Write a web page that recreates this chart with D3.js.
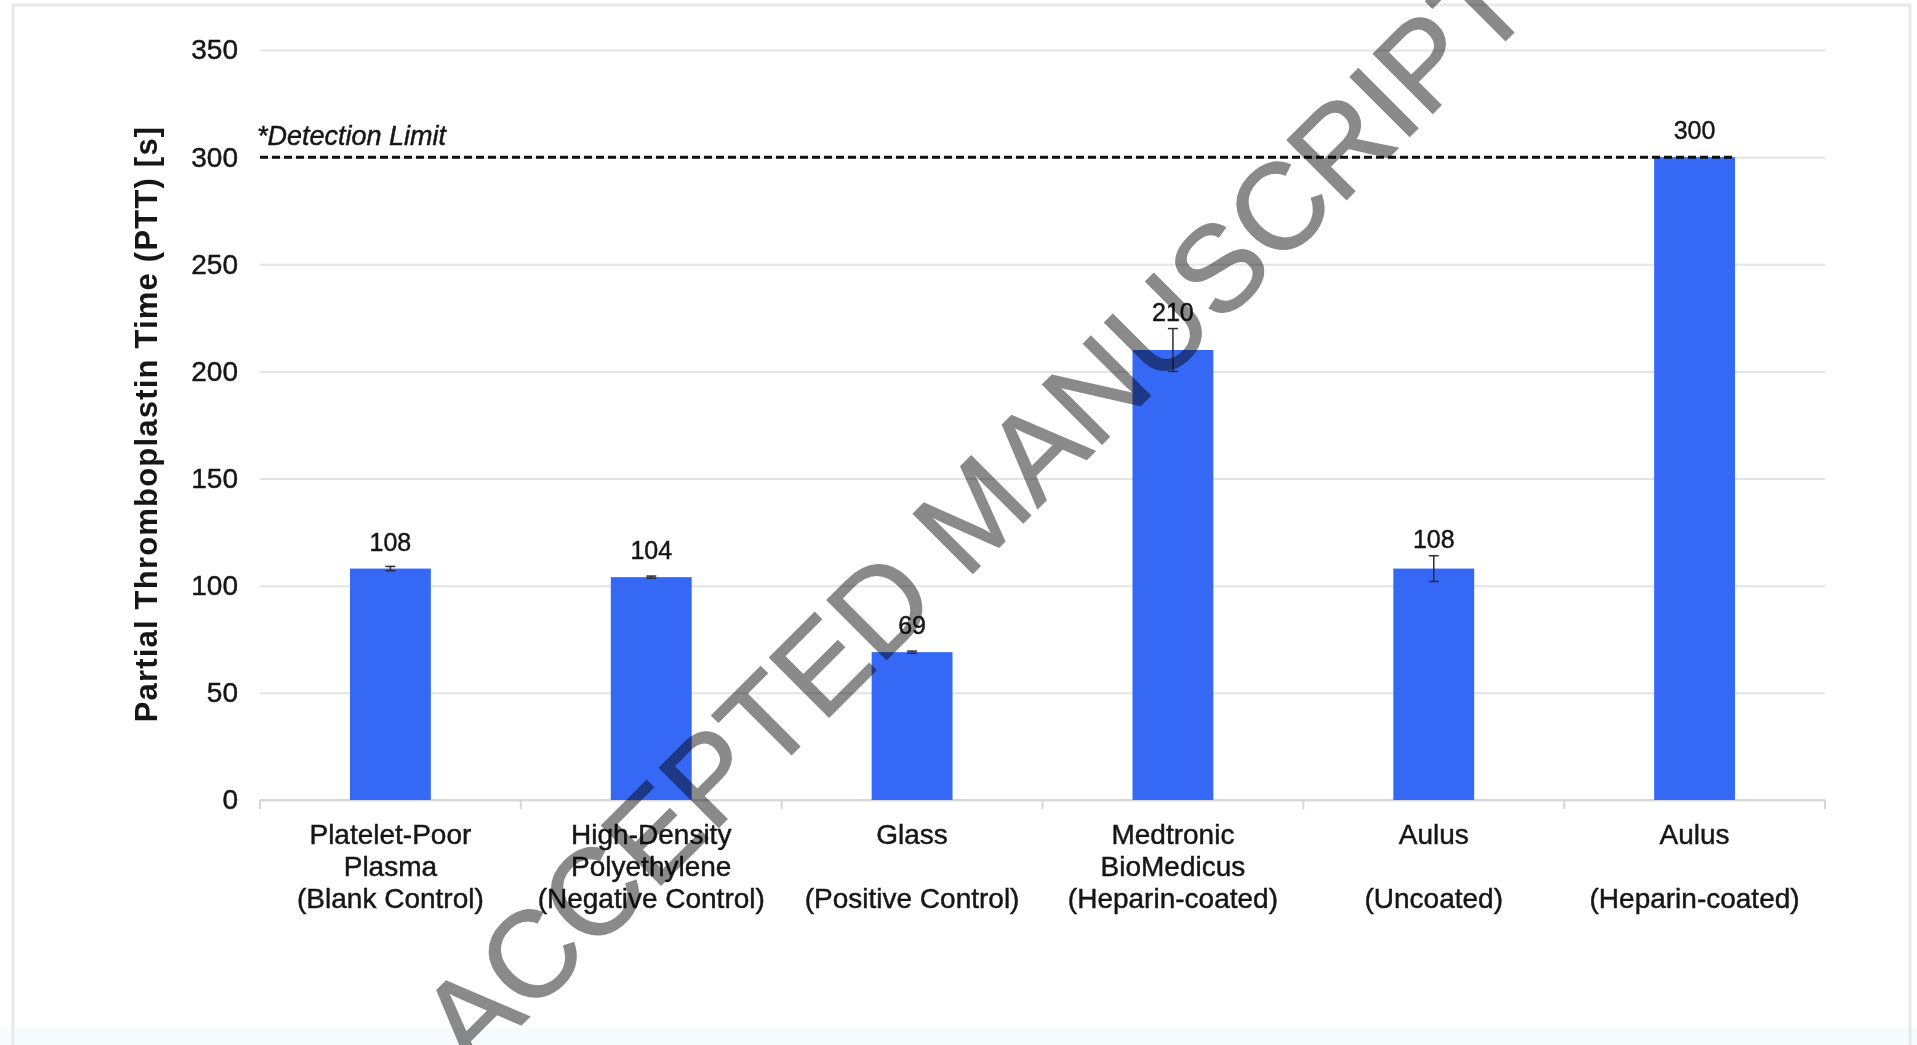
<!DOCTYPE html>
<html>
<head>
<meta charset="utf-8">
<script src="https://cdn.jsdelivr.net/npm/d3@7"></script>
<style>
  html, body { margin: 0; padding: 0; background: #ffffff; }
  text { font-family: "Liberation Sans", Arial, Helvetica, sans-serif; fill: #161616; }
  .inked { stroke: #161616; stroke-width: 0.45px; }
</style>
</head>
<body>
<div id="graph"></div>
<script>
// bar categories, one array per label line
var labelLine1 = ["Platelet-Poor", "High-Density", "Glass", "Medtronic", "Aulus", "Aulus"];
var labelLine2 = ["Plasma", "Polyethylene", "", "BioMedicus", "", ""];
var labelLine3 = ["(Blank Control)", "(Negative Control)", "(Positive Control)", "(Heparin-coated)", "(Uncoated)", "(Heparin-coated)"];

// PTT in seconds and error (+/-)
var pttValues = [108, 104, 69, 210, 108, 300];
var pttErrors = [1, 0.5, 0.5, 10, 6, 0];

var yTicks = [0, 50, 100, 150, 200, 250, 300, 350];
var detectionLimit = 300;

var svgWidth = 1917;
var svgHeight = 1045;

var chartMargin = { top: 50, right: 92, bottom: 245, left: 260 };
var chartWidth = svgWidth - chartMargin.left - chartMargin.right;
var chartHeight = svgHeight - chartMargin.top - chartMargin.bottom;

var svg = d3.select("#graph")
  .append("svg")
  .attr("width", svgWidth)
  .attr("height", svgHeight);

// faint scan frame
svg.append("rect")
  .attr("x", 0).attr("y", 1028).attr("width", svgWidth).attr("height", 17)
  .attr("fill", "#f6fbfd");
svg.append("rect")
  .attr("x", 13).attr("y", 5).attr("width", 1897).attr("height", 1060)
  .attr("fill", "none")
  .attr("stroke", "#e9e9e9")
  .attr("stroke-width", 3);

var chartGroup = svg.append("g")
  .attr("transform", `translate(${chartMargin.left}, ${chartMargin.top})`);

var idx = d3.range(pttValues.length);

var xScale = d3.scaleBand()
  .domain(idx)
  .range([0, chartWidth])
  .paddingInner(0.69)
  .paddingOuter(0.345);

var yScale = d3.scaleLinear()
  .domain([0, 350])
  .range([chartHeight, 0]);

// gridlines + tick labels
var yAxis = chartGroup.append("g")
  .call(d3.axisLeft(yScale).tickValues(yTicks).tickSize(-chartWidth).tickPadding(22));
yAxis.select(".domain").remove();
yAxis.selectAll(".tick line")
  .attr("stroke", "#e4e4e4")
  .attr("stroke-width", 2);
yAxis.selectAll(".tick text")
  .attr("class", "inked")
  .attr("font-size", 28)
  .attr("fill", "#161616")
  .style("font-family", "'Liberation Sans', Arial, sans-serif");

// x baseline with ticks at band edges
chartGroup.append("line")
  .attr("x1", 0).attr("x2", chartWidth)
  .attr("y1", yScale(0)).attr("y2", yScale(0))
  .attr("stroke", "#d6d6d6")
  .attr("stroke-width", 2);

chartGroup.selectAll(".xtick")
  .data(d3.range(pttValues.length + 1))
  .enter()
  .append("line")
  .attr("class", "xtick")
  .attr("x1", d => d * xScale.step())
  .attr("x2", d => d * xScale.step())
  .attr("y1", yScale(0))
  .attr("y2", yScale(0) + 9)
  .attr("stroke", "#d6d6d6")
  .attr("stroke-width", 2);

// bars
chartGroup.selectAll(".bar")
  .data(idx)
  .enter()
  .append("rect")
  .attr("class", "bar")
  .attr("x", i => xScale(i))
  .attr("y", i => yScale(pttValues[i]))
  .attr("width", xScale.bandwidth())
  .attr("height", i => yScale(0) - yScale(pttValues[i]))
  .attr("fill", "#3568f5");

// error bars
var errGroup = chartGroup.selectAll(".err")
  .data(idx.filter(i => pttErrors[i] > 0))
  .enter()
  .append("g")
  .attr("class", "err")
  .attr("stroke", "#2b2b3a")
  .attr("stroke-width", 1.5);

errGroup.append("line")
  .attr("x1", i => xScale(i) + xScale.bandwidth() / 2)
  .attr("x2", i => xScale(i) + xScale.bandwidth() / 2)
  .attr("y1", i => yScale(pttValues[i] - pttErrors[i]))
  .attr("y2", i => yScale(pttValues[i] + pttErrors[i]));

errGroup.selectAll(".cap")
  .data(i => [[i, 1], [i, -1]])
  .enter()
  .append("line")
  .attr("x1", d => xScale(d[0]) + xScale.bandwidth() / 2 - 5)
  .attr("x2", d => xScale(d[0]) + xScale.bandwidth() / 2 + 5)
  .attr("y1", d => yScale(pttValues[d[0]] + d[1] * pttErrors[d[0]]))
  .attr("y2", d => yScale(pttValues[d[0]] + d[1] * pttErrors[d[0]]));

// value labels
chartGroup.selectAll(".vlabel")
  .data(idx)
  .enter()
  .append("text")
  .attr("class", "vlabel inked")
  .attr("x", i => xScale(i) + xScale.bandwidth() / 2)
  .attr("y", i => Math.min(yScale(pttValues[i]) - 27, yScale(pttValues[i] + pttErrors[i]) - 17) + 9)
  .attr("text-anchor", "middle")
  .attr("font-size", 25)
  .text(i => pttValues[i]);

// detection limit
var lastBar = idx[idx.length - 1];
chartGroup.append("line")
  .attr("x1", 0)
  .attr("x2", xScale(lastBar) + xScale.bandwidth())
  .attr("y1", yScale(detectionLimit))
  .attr("y2", yScale(detectionLimit))
  .attr("stroke", "#111")
  .attr("stroke-width", 3)
  .attr("stroke-dasharray", "8,4");

chartGroup.append("text")
  .attr("class", "inked")
  .attr("x", -3)
  .attr("y", yScale(detectionLimit) - 12)
  .attr("font-size", 27)
  .attr("font-style", "italic")
  .text("*Detection Limit");

// category labels
var lines = [labelLine1, labelLine2, labelLine3];
lines.forEach(function(arr, li) {
  chartGroup.selectAll(".xl" + li)
    .data(idx)
    .enter()
    .append("text")
    .attr("class", "xl" + li + " inked")
    .attr("x", i => xScale(i) + xScale.bandwidth() / 2)
    .attr("y", chartHeight + 44 + li * 32)
    .attr("text-anchor", "middle")
    .attr("font-size", 28)
    .text(i => arr[i]);
});

// y title
svg.append("text")
  .attr("transform", `translate(157, ${chartMargin.top + chartHeight / 2 - 1}) rotate(-90)`)
  .attr("text-anchor", "middle")
  .attr("font-size", 31)
  .attr("letter-spacing", 1.2)
  .attr("font-weight", "bold")
  .text("Partial Thromboplastin Time (PTT) [s]");

// manuscript watermark
svg.append("text")
  .attr("transform", "translate(1004, 542) rotate(-45)")
  .attr("text-anchor", "middle")
  .attr("font-size", 122)
  .style("fill", "#8a8a8a")
  .style("stroke", "#8a8a8a")
  .style("stroke-width", 1.5)
  .style("mix-blend-mode", "multiply")
  .text("ACCEPTED MANUSCRIPT");
</script>
</body>
</html>
